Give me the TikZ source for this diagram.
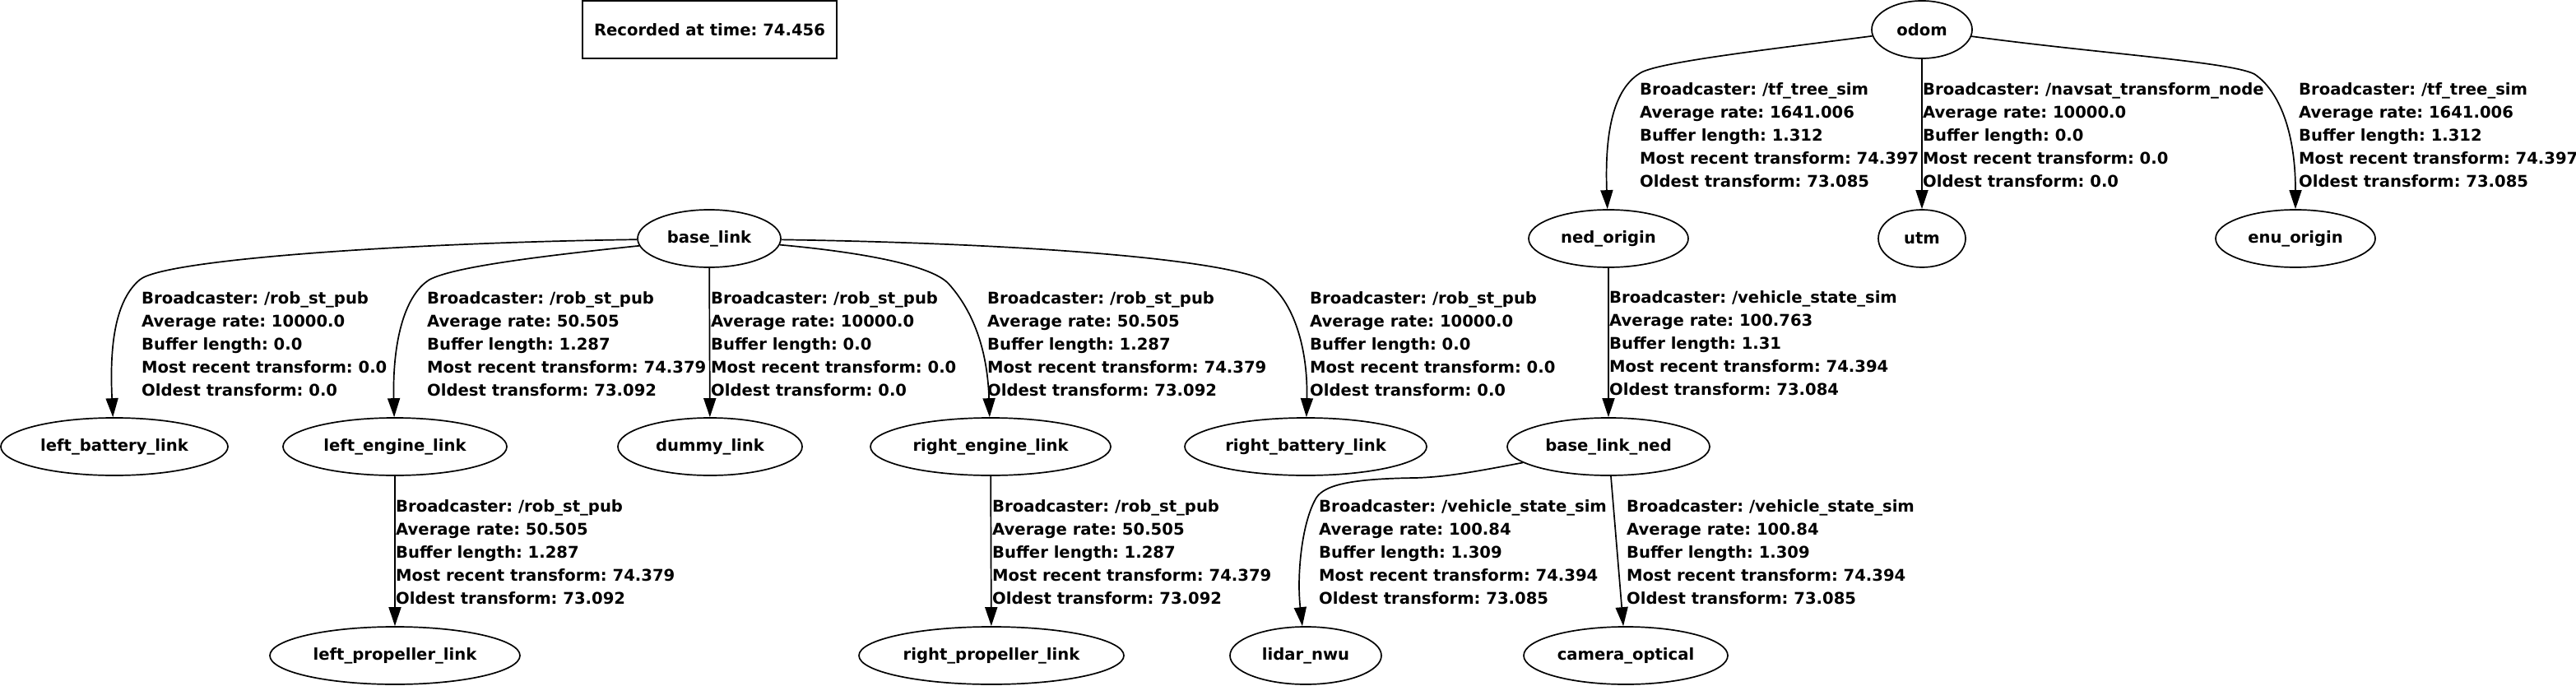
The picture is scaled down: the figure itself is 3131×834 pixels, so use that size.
\documentclass[tikz,border=0pt]{standalone}
\usepackage{fontspec}
\setmainfont{DejaVu Sans}
\usetikzlibrary{shapes.geometric,arrows.meta}
\newcommand\tfinfo[5]{Broadcaster: #1\\Average rate: #2\\Buffer length: #3\\Most recent transform: #4\\Oldest transform: #5}
\tikzset{
  tffont/.style={font=\bfseries\fontsize{19.6}{28}\selectfont},
  tfnode/.style={ellipse, draw, line width=1.7pt, inner sep=0pt, minimum height=70pt, tffont},
  tfedge/.style={line width=1.7pt, -{Triangle[length=23pt,width=15pt]}},
  tflabel/.style={anchor=north west, inner sep=0pt, align=left, tffont},
}
\frenchspacing
\begin{document}
\begin{tikzpicture}[x=1pt,y=-1pt]
\useasboundingbox (0,0) rectangle (3131,834);
% time box
\node[draw, line width=1.7pt, minimum width=309pt, minimum height=70pt, inner sep=0pt, tffont] (rec) at (862.5,36) {Recorded at time: 74.456};
% nodes
\node[tfnode, minimum width=122pt] (odom) at (2336,36) {odom};
\node[tfnode, minimum width=174pt] (bl) at (862,290) {base\_link};
\node[tfnode, minimum width=194pt] (ned) at (1955,290) {ned\_origin};
\node[tfnode, minimum width=106pt] (utm) at (2336,290) {utm};
\node[tfnode, minimum width=194pt] (enu) at (2790,290) {enu\_origin};
\node[tfnode, minimum width=276pt] (lb) at (139,543) {left\_battery\_link};
\node[tfnode, minimum width=272pt] (le) at (480,543) {left\_engine\_link};
\node[tfnode, minimum width=224pt] (dl) at (863,543) {dummy\_link};
\node[tfnode, minimum width=292pt] (re) at (1204,543) {right\_engine\_link};
\node[tfnode, minimum width=294pt] (rb) at (1587,543) {right\_battery\_link};
\node[tfnode, minimum width=246pt] (bln) at (1955,543) {base\_link\_ned};
\node[tfnode, minimum width=304pt] (lp) at (480,797) {left\_propeller\_link};
\node[tfnode, minimum width=322pt] (rp) at (1205,797) {right\_propeller\_link};
\node[tfnode, minimum width=184pt] (lid) at (1587,797) {lidar\_nwu};
\node[tfnode, minimum width=248pt] (cam) at (1976,797) {camera\_optical};
% edges
\draw[tfedge] (bl) .. controls (500,295) and (200,315) .. (170,340) .. controls (140,365) and (133,420) .. (lb);
\draw[tfedge] (bl) .. controls (650,312) and (550,325) .. (522,340) .. controls (490,360) and (477,420) .. (le);
\draw[tfedge] (bl) -- (dl);
\draw[tfedge] (bl) .. controls (1030,305) and (1130,320) .. (1153,345) .. controls (1180,375) and (1200,420) .. (re);
\draw[tfedge] (bl) .. controls (1250,296) and (1480,315) .. (1535,340) .. controls (1570,360) and (1590,420) .. (rb);
\draw[tfedge] (odom) .. controls (2150,60) and (2020,75) .. (1995,88) .. controls (1965,105) and (1950,150) .. (ned);
\draw[tfedge] (odom) -- (utm);
\draw[tfedge] (odom) .. controls (2550,65) and (2710,75) .. (2740,90) .. controls (2770,110) and (2790,160) .. (enu);
\draw[tfedge] (ned) -- (bln);
\draw[tfedge] (le) -- (lp);
\draw[tfedge] (re) -- (rp);
\draw[tfedge] (bln) .. controls (1800,572) and (1760,580) .. (1720,581) .. controls (1640,582) and (1610,590) .. (1600,605) .. controls (1582,635) and (1576,700) .. (lid);
\draw[tfedge] (bln) -- (cam);
% labels
\node[tflabel] (llb) at (172,354.1) {\tfinfo{/rob\_st\_pub}{10000.0}{0.0}{0.0}{0.0}};
\node[tflabel] (lle) at (519,354.1) {\tfinfo{/rob\_st\_pub}{50.505}{1.287}{74.379}{73.092}};
\node[tflabel] (ldl) at (864,354.1) {\tfinfo{/rob\_st\_pub}{10000.0}{0.0}{0.0}{0.0}};
\node[tflabel] (lre) at (1200,354.1) {\tfinfo{/rob\_st\_pub}{50.505}{1.287}{74.379}{73.092}};
\node[tflabel] (lrb) at (1592,354.1) {\tfinfo{/rob\_st\_pub}{10000.0}{0.0}{0.0}{0.0}};
\node[tflabel] (lned) at (1993,100.1) {\tfinfo{/tf\_tree\_sim}{1641.006}{1.312}{74.397}{73.085}};
\node[tflabel] (lutm) at (2337,100.1) {\tfinfo{/navsat\_transform\_node}{10000.0}{0.0}{0.0}{0.0}};
\node[tflabel] (lenu) at (2794,100.1) {\tfinfo{/tf\_tree\_sim}{1641.006}{1.312}{74.397}{73.085}};
\node[tflabel] (lbln) at (1956,353.1) {\tfinfo{/vehicle\_state\_sim}{100.763}{1.31}{74.394}{73.084}};
\node[tflabel] (llp) at (481,607.1) {\tfinfo{/rob\_st\_pub}{50.505}{1.287}{74.379}{73.092}};
\node[tflabel] (lrp) at (1206,607.1) {\tfinfo{/rob\_st\_pub}{50.505}{1.287}{74.379}{73.092}};
\node[tflabel] (llid) at (1603,607.1) {\tfinfo{/vehicle\_state\_sim}{100.84}{1.309}{74.394}{73.085}};
\node[tflabel] (lcam) at (1977,607.1) {\tfinfo{/vehicle\_state\_sim}{100.84}{1.309}{74.394}{73.085}};
\end{tikzpicture}
\end{document}
